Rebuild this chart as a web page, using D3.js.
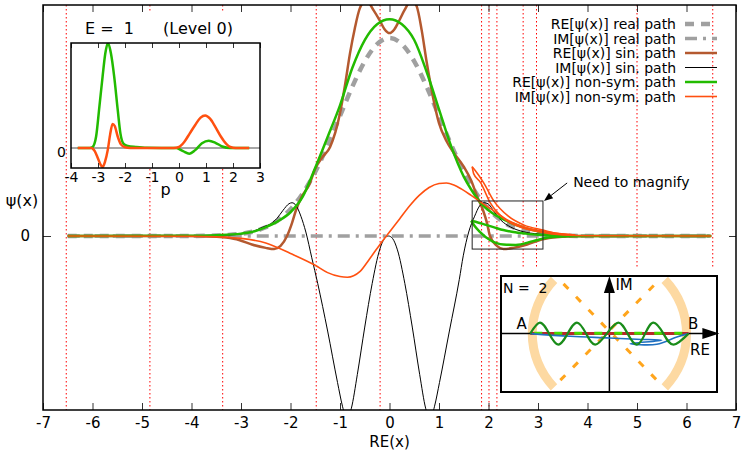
<!DOCTYPE html>
<html><head><meta charset="utf-8">
<script src="https://cdn.jsdelivr.net/npm/d3@7"></script>
<style>body{margin:0;background:#fff;} svg{display:block;} text{font-family:"DejaVu Sans",Verdana,sans-serif;fill:#000;}</style>
</head><body><svg id="c" width="750" height="450"></svg>
<script>
// ---------------- DATA ----------------
const xTickLabels = [-7,-6,-5,-4,-3,-2,-1,0,1,2,3,4,5,6,7];
const yTickLabels = [0];
const insetTickLabels = [-4,-3,-2,-1,0,1,2,3];
const redLinesX = [-6.53,-4.84,-3.37,-1.48,-0.19,1.86,2.01,2.17,2.70,2.97,5.0,6.53];
const legendLabels = ["RE[ψ(x)] real path","IM[ψ(x)] real path","RE[ψ(x)] sin. path","IM[ψ(x)] sin. path","RE[ψ(x)] non-sym. path","IM[ψ(x)] non-sym. path"];

const reRealPath = [[-6.5,0],[-4,0.0003],[-3.5,0.0022],[-3.25,0.0051],[-3,0.0111],[-2.75,0.0228],[-2.5,0.0439],[-2.25,0.0796],[-2,0.1353],[-1.75,0.2163],[-1.5,0.3247],[-1.25,0.4578],[-1,0.6065],[-0.75,0.7548],[-0.5,0.8825],[-0.25,0.9692],[0,1],[0.25,0.9692],[0.5,0.8825],[0.75,0.7548],[1,0.6065],[1.25,0.4578],[1.5,0.3247],[1.75,0.2163],[2,0.1353],[2.25,0.0796],[2.5,0.0439],[2.75,0.0228],[3,0.0111],[3.25,0.0051],[3.5,0.0022],[4,0.0003],[6.5,0]];
const imRealPath = [[-6.5,0],[6.5,0]];
const reSinPath = [[-6.5,0],[-4.2,0],[-3.7,-0.001],[-3.3,-0.008],[-3.04,-0.02],[-2.78,-0.043],[-2.5,-0.06],[-2.33,-0.066],[-2.2,-0.05],[-2.07,0],[-1.97,0.065],[-1.89,0.13],[-1.77,0.2],[-1.62,0.26],[-1.5,0.34],[-1.35,0.4],[-1.2,0.45],[-1,0.62],[-0.9,0.76],[-0.8,0.92],[-0.7,1.05],[-0.6,1.15],[-0.47,1.19],[-0.32,1.14],[-0.2,1.09],[-0.1,1.045],[0,1.025],[0.1,1.045],[0.2,1.09],[0.3,1.14],[0.45,1.19],[0.55,1.16],[0.65,1.04],[0.75,0.88],[0.88,0.7],[1,0.57],[1.15,0.48],[1.3,0.42],[1.5,0.35],[1.65,0.28],[1.77,0.2],[1.89,0.13],[1.97,0.065],[2.03,0],[2.17,-0.05],[2.3,-0.066],[2.5,-0.06],[2.78,-0.043],[3.04,-0.02],[3.3,-0.008],[3.7,-0.001],[4.2,0],[6.5,0]];
const imSinPath = [[-6.5,0],[-4,0],[-3.5,0.002],[-3,0.01],[-2.8,0.02],[-2.54,0.047],[-2.4,0.062],[-2.27,0.09],[-2.15,0.13],[-2.03,0.163],[-1.97,0.168],[-1.89,0.155],[-1.79,0.1],[-1.69,0.02],[-1.57,-0.11],[-1.45,-0.24],[-1.25,-0.48],[-1.05,-0.74],[-0.95,-0.86],[-0.86,-0.93],[-0.77,-0.87],[-0.65,-0.7],[-0.5,-0.46],[-0.35,-0.24],[-0.2,-0.07],[-0.1,-0.012],[-0.02,0],[0.06,-0.012],[0.16,-0.07],[0.31,-0.24],[0.46,-0.46],[0.61,-0.7],[0.73,-0.87],[0.82,-0.93],[0.91,-0.86],[1.01,-0.74],[1.21,-0.48],[1.41,-0.22],[1.49,-0.1],[1.6,0.02],[1.72,0.1],[1.82,0.152],[1.91,0.168],[1.99,0.163],[2.12,0.12],[2.25,0.08],[2.45,0.045],[2.7,0.022],[3,0.01],[3.5,0.002],[4,0],[6.5,0]];
// non-symmetric path: three branches (forward, back, forward) because RE(x) turns back
const reNonSymMain = [[-6.5,0],[-4,0.001],[-3.5,0.004],[-3,0.012],[-2.75,0.022],[-2.5,0.045],[-2.25,0.075],[-2,0.12],[-1.75,0.2],[-1.5,0.345],[-1.25,0.5],[-1,0.66],[-0.75,0.85],[-0.5,0.99],[-0.25,1.07],[0,1.095],[0.25,1.07],[0.5,0.99],[0.75,0.83],[1,0.64],[1.25,0.45],[1.5,0.3],[1.65,0.235],[1.85,0.165],[2,0.13],[2.25,0.09],[2.5,0.062],[2.75,0.04],[3,0.024],[3.25,0.012],[3.75,0.003]];
const reNonSymBack = [[3.75,0.003],[3.25,0.004],[3,0.006],[2.75,0.012],[2.5,0.02],[2.3,0.03],[2.1,0.045],[1.95,0.056],[1.8,0.067],[1.65,0.077]];
const reNonSymFwd = [[1.65,0.077],[1.72,0.05],[1.83,0.02],[2.03,-0.02],[2.3,-0.043],[2.55,-0.045],[2.9,-0.026],[3.2,-0.008],[3.6,-0.001],[4,0],[6.5,0]];
const imNonSymMain = [[-6.5,0],[-4,-0.001],[-3.5,-0.004],[-3,-0.012],[-2.5,-0.035],[-2,-0.088],[-1.5,-0.148],[-1.25,-0.185],[-1,-0.205],[-0.85,-0.208],[-0.6,-0.18],[-0.4,-0.115],[-0.2,-0.045],[0,0.02],[0.2,0.085],[0.4,0.15],[0.6,0.205],[0.8,0.245],[1,0.265],[1.15,0.268],[1.3,0.258],[1.45,0.238],[1.65,0.205],[1.85,0.17],[2.1,0.128],[2.4,0.078],[2.75,0.043],[3.2,0.02],[3.75,0.005]];
const imNonSymBack = [[3.75,0.005],[3.4,0.012],[3.1,0.03],[2.72,0.055],[2.4,0.1],[2.1,0.18],[1.9,0.27],[1.72,0.335],[1.67,0.35]];
const imNonSymFwd = [[1.67,0.35],[1.7,0.315],[1.84,0.27],[2.03,0.17],[2.3,0.09],[2.64,0.045],[3.04,0.02],[3.5,0.005],[4,0.001],[6.5,0]];
const magnifyBox = [[1.67,-0.066],[3.1,0.177]];
const magnifyLabel = [3.71,0.273];

// inset 1: momentum space (E = 1, Level 0)
const pNonSymRe = [[-3.75,0],[-3.3,0],[-3.2,0.01],[-3.07,0.11],[-2.95,0.39],[-2.83,0.68],[-2.73,0.9],[-2.63,1.0],[-2.52,0.9],[-2.4,0.68],[-2.27,0.365],[-2.17,0.14],[-2.05,0.04],[-1.9,0.02],[-1.6,0.01],[-1.2,0.002],[-0.1,0],[0.15,-0.03],[0.38,-0.054],[0.6,-0.02],[0.85,0.045],[1.1,0.07],[1.35,0.05],[1.6,0.015],[1.9,0],[2.6,0]];
const pNonSymIm = [[-3.75,0],[-3.25,0],[-3.12,-0.03],[-3,-0.1],[-2.9,-0.16],[-2.83,-0.18],[-2.74,-0.13],[-2.64,-0.02],[-2.55,0.13],[-2.46,0.23],[-2.38,0.21],[-2.27,0.11],[-2.15,0.035],[-2.02,0.01],[-1.8,0],[-0.2,0],[0,0.01],[0.2,0.06],[0.4,0.14],[0.6,0.22],[0.8,0.29],[0.97,0.31],[1.15,0.28],[1.35,0.2],[1.55,0.11],[1.75,0.04],[1.9,0.01],[2.1,0],[2.6,0]];

// inset 2: complex-plane paths (N = 2)
const wavePath = [[-1,0],[-0.878,0.14],[-0.762,0],[-0.646,-0.14],[-0.528,0],[-0.41,0.14],[-0.295,0],[-0.18,-0.14],[-0.033,0],[0.114,0.14],[0.23,0],[0.346,-0.14],[0.452,0],[0.557,0.14],[0.683,0],[0.81,-0.14],[1,0]];
const bluePath = [[-1,0],[-0.494,-0.034],[0,-0.055],[0.346,-0.072],[0.662,-0.084],[0.262,-0.127],[0.599,-0.135],[0.852,-0.042],[1,0]];
const realLine = [[-1,0],[1,0]];
const greenDashLine = [[-0.95,0.006],[0.95,0.006]];
const diagonal1 = [[-0.62,-0.59],[0.58,0.63]];
const diagonal2 = [[-0.58,0.63],[0.6,-0.59]];
const arcRadius = 0.975;
const arcSpans = [[-2.34,-0.80],[0.80,2.34]];
const pointLabels = [["A",-1.11,0.12],["B",1.06,0.12]];

// ---------------- DRAW ----------------
const svg = d3.select('#c');
const defs = svg.append('defs');
const P = {l:43, r:736, t:5, b:410};
const x = d3.scaleLinear().domain([-7,7]).range([P.l,P.r]);
const y = d3.scaleLinear().domain([-0.879,1.167]).range([P.b,P.t]);
defs.append('clipPath').attr('id','clipMain').append('rect')
  .attr('x',P.l).attr('y',P.t).attr('width',P.r-P.l).attr('height',P.b-P.t);

const sorted = p => p.slice().sort((a,b)=>a[0]-b[0]);
function drawPath(g, pts, xs, ys, st, curve){
  return g.append('path').datum(pts)
    .attr('d', d3.line().x(d=>xs(d[0])).y(d=>ys(d[1])).curve(curve||d3.curveMonotoneX))
    .attr('fill','none').attr('stroke',st.c).attr('stroke-width',st.w)
    .attr('stroke-dasharray',st.dash||null).attr('stroke-linejoin','round');
}
const S = {
  reReal:{c:'#a0a0a0',w:4.5,dash:'9,7'},
  imReal:{c:'#a0a0a0',w:3.5,dash:'12,6,3,6'},
  reSin:{c:'#b4592f',w:2.5},
  imSin:{c:'#000',w:1},
  reNon:{c:'#22bb00',w:2.5},
  imNon:{c:'#ff5010',w:1.6}
};

const gMain = svg.append('g').attr('clip-path','url(#clipMain)');
gMain.selectAll('line.rd').data(redLinesX).join('line')
  .attr('x1',d=>x(d)).attr('x2',d=>x(d)).attr('y1',P.t).attr('y2',P.b)
  .attr('stroke','#ff0000').attr('stroke-width',1).attr('stroke-dasharray','1.5,2.5');

drawPath(gMain, reRealPath, x, y, S.reReal);
drawPath(gMain, imRealPath, x, y, S.imReal, d3.curveLinear);
drawPath(gMain, reSinPath, x, y, S.reSin);
drawPath(gMain, imSinPath, x, y, S.imSin);
drawPath(gMain, reNonSymMain, x, y, S.reNon);
drawPath(gMain, sorted(reNonSymBack), x, y, S.reNon);
drawPath(gMain, reNonSymFwd, x, y, S.reNon);
drawPath(gMain, imNonSymMain, x, y, S.imNon);
drawPath(gMain, sorted(imNonSymBack), x, y, S.imNon);
drawPath(gMain, imNonSymFwd, x, y, S.imNon);

// magnify box + arrow
svg.append('rect').attr('x',x(magnifyBox[0][0])).attr('y',y(magnifyBox[1][1]))
  .attr('width',x(magnifyBox[1][0])-x(magnifyBox[0][0])).attr('height',y(magnifyBox[0][1])-y(magnifyBox[1][1]))
  .attr('fill','none').attr('stroke','#222').attr('stroke-width',1);
{
  const tx = x(magnifyBox[1][0])+1, ty = y(magnifyBox[1][1]);
  const sx = x(magnifyLabel[0])-6, sy = y(magnifyLabel[1])+1;
  const ang = Math.atan2(ty-sy, tx-sx), L=9, Wd=3.5;
  const bxp = tx - L*Math.cos(ang), byp = ty - L*Math.sin(ang);
  svg.append('line').attr('x1',sx).attr('y1',sy).attr('x2',bxp).attr('y2',byp).attr('stroke','#000').attr('stroke-width',1);
  svg.append('path').attr('d',`M${tx},${ty}L${bxp - Wd*Math.sin(ang)},${byp + Wd*Math.cos(ang)}L${bxp + Wd*Math.sin(ang)},${byp - Wd*Math.cos(ang)}Z`).attr('fill','#000');
  svg.append('text').attr('x',x(magnifyLabel[0])).attr('y',y(magnifyLabel[1])).attr('dominant-baseline','central')
    .attr('font-size',14).text('Need to magnify');
}

// ---------- Inset 1 ----------
const ix = d3.scaleLinear().domain([-4,3]).range([71,260]);
const iy = d3.scaleLinear().domain([-0.19,1.0]).range([168,43]);
svg.append('rect').attr('x',68).attr('y',11).attr('width',197).attr('height',157).attr('fill','#fff');
defs.append('clipPath').attr('id','clipIn1').append('rect').attr('x',ix(-4)).attr('y',iy(1)).attr('width',ix(3)-ix(-4)).attr('height',iy(-0.19)-iy(1));
const g1 = svg.append('g');
const g1c = g1.append('g').attr('clip-path','url(#clipIn1)');
g1c.append('line').attr('x1',ix(-4)).attr('x2',ix(3)).attr('y1',iy(0)).attr('y2',iy(0)).attr('stroke','#888').attr('stroke-width',1.5);
drawPath(g1c, pNonSymRe, ix, iy, {c:'#22bb00',w:2.5});
drawPath(g1c, pNonSymIm, ix, iy, {c:'#ff5010',w:2.5});
g1.append('g').attr('transform',`translate(0,${iy(-0.19)})`)
  .call(d3.axisBottom(ix).tickValues(insetTickLabels).tickFormat(d=>String(d)).tickSizeInner(-5).tickSizeOuter(0).tickPadding(4))
  .call(g=>{g.select('.domain').remove(); g.selectAll('text').attr('font-size',14).attr('font-family','DejaVu Sans').attr('fill','#000'); g.selectAll('line').attr('stroke','#333');});
g1.append('g').attr('transform',`translate(0,${iy(1)})`)
  .call(d3.axisTop(ix).tickValues(insetTickLabels).tickFormat('').tickSizeInner(-5).tickSizeOuter(0))
  .call(g=>{g.select('.domain').remove(); g.selectAll('line').attr('stroke','#333');});
g1.append('text').attr('x',ix(-4)-5).attr('y',iy(0)+4).attr('text-anchor','end').attr('dominant-baseline','central').attr('font-size',14).text('0');
g1.append('rect').attr('x',ix(-4)).attr('y',iy(1)).attr('width',ix(3)-ix(-4)).attr('height',iy(-0.19)-iy(1))
  .attr('fill','none').attr('stroke','#000').attr('stroke-width',1.5);
g1.append('text').attr('x',85).attr('y',28).attr('dominant-baseline','central').attr('font-size',16).style('white-space','pre').text('E =  1');
g1.append('text').attr('x',163).attr('y',28).attr('dominant-baseline','central').attr('font-size',16).text('(Level 0)');
g1.append('text').attr('x',ix(-0.5)).attr('y',195).attr('text-anchor','middle').attr('font-size',16).text('p');

// ---------- Inset 2 ----------
const bx = d3.scaleLinear().domain([-1.37,1.36]).range([501,717]);
const by = d3.scaleLinear().domain([-0.74,0.73]).range([392,276]);
svg.append('rect').attr('x',499).attr('y',268).attr('width',237).attr('height',142).attr('fill','#fff');
const g2 = svg.append('g');
const r0 = bx(arcRadius)-bx(0);
g2.selectAll('path.arc').data(arcSpans).join('path')
  .attr('transform',`translate(${bx(0)},${by(0)})`)
  .attr('d',d=>d3.arc().innerRadius(r0-4.5).outerRadius(r0+4.5).startAngle(d[0]).endAngle(d[1])())
  .attr('fill','#fdd9a2');
[diagonal1, diagonal2].forEach(dg=>drawPath(g2, dg, bx, by, {c:'#ffa51c',w:3,dash:'7,11'}, d3.curveLinear));
const reTip = 1.39, imTip = 0.73;
g2.append('line').attr('x1',bx(-1.37)).attr('x2',bx(reTip)-14).attr('y1',by(0)).attr('y2',by(0)).attr('stroke','#000').attr('stroke-width',1.5);
g2.append('path').attr('d',`M${bx(reTip)},${by(0)}L${bx(reTip)-17},${by(0)-5.5}L${bx(reTip)-17},${by(0)+5.5}Z`).attr('fill','#000');
g2.append('line').attr('x1',bx(0)).attr('x2',bx(0)).attr('y1',by(-0.74)).attr('y2',by(imTip)+14).attr('stroke','#000').attr('stroke-width',1.5);
g2.append('path').attr('d',`M${bx(0)},${by(imTip)}L${bx(0)-5.5},${by(imTip)+17}L${bx(0)+5.5},${by(imTip)+17}Z`).attr('fill','#000');
drawPath(g2, realLine, bx, by, {c:'#b8282a',w:3}, d3.curveLinear);
drawPath(g2, greenDashLine, bx, by, {c:'#44dd00',w:3,dash:'8,12'}, d3.curveLinear);
drawPath(g2, bluePath, bx, by, {c:'#2070c0',w:1.6}, d3.curveCatmullRom);
drawPath(g2, wavePath, bx, by, {c:'#1a8c1a',w:2.2}, d3.curveNatural);
g2.append('rect').attr('x',bx(-1.37)).attr('y',by(0.73)).attr('width',bx(1.36)-bx(-1.37)).attr('height',by(-0.74)-by(0.73))
  .attr('fill','none').attr('stroke','#000').attr('stroke-width',2);
g2.append('text').attr('x',503).attr('y',288).attr('dominant-baseline','central').attr('font-size',14).style('white-space','pre').text('N =  2');
g2.selectAll('text.pl').data(pointLabels).join('text').attr('x',d=>bx(d[1])).attr('y',d=>by(d[2])).attr('text-anchor','middle').attr('dominant-baseline','central').attr('font-size',15).text(d=>d[0]);
g2.append('text').attr('x',bx(0)+6).attr('y',285).attr('dominant-baseline','central').attr('font-size',15).text('IM');
g2.append('text').attr('x',700).attr('y',350).attr('text-anchor','middle').attr('dominant-baseline','central').attr('font-size',15).text('RE');

// ---------- Main axes ----------
const styleAxis = g=>{g.select('.domain').remove(); g.selectAll('line').attr('stroke','#333'); g.selectAll('text').attr('font-size',15).attr('font-family','DejaVu Sans').attr('fill','#000');};
svg.append('g').attr('transform',`translate(0,${P.b})`)
  .call(d3.axisBottom(x).tickValues(xTickLabels).tickFormat(d=>String(d)).tickSizeInner(-7).tickSizeOuter(0).tickPadding(7)).call(styleAxis);
svg.append('g').attr('transform',`translate(0,${P.t})`)
  .call(d3.axisTop(x).tickValues(xTickLabels).tickFormat('').tickSizeInner(-7).tickSizeOuter(0)).call(styleAxis);
svg.append('g').attr('transform',`translate(${P.l},0)`)
  .call(d3.axisLeft(y).tickValues(yTickLabels).tickFormat(d=>String(d)).tickSizeInner(-8).tickSizeOuter(0).tickPadding(13)).call(styleAxis);
svg.append('g').attr('transform',`translate(${P.r},0)`)
  .call(d3.axisRight(y).tickValues(yTickLabels).tickFormat('').tickSizeInner(-7).tickSizeOuter(0)).call(styleAxis);
svg.append('rect').attr('x',P.l).attr('y',P.t).attr('width',P.r-P.l).attr('height',P.b-P.t)
  .attr('fill','none').attr('stroke','#000').attr('stroke-width',1.5);
svg.append('text').attr('x',22).attr('y',200).attr('text-anchor','middle').attr('dominant-baseline','central').attr('font-size',16).text('ψ(x)');
svg.append('text').attr('x',x(0)).attr('y',442).attr('text-anchor','middle').attr('dominant-baseline','central').attr('font-size',15).text('RE(x)');

// ---------- Legend ----------
const legStyles = [S.reReal,S.imReal,S.reSin,S.imSin,S.reNon,S.imNon];
const lg = svg.append('g');
legendLabels.forEach((lab,i)=>{
  const yy = 24 + i*14.5;
  lg.append('text').attr('x',676).attr('y',yy).attr('text-anchor','end').attr('dominant-baseline','central').attr('font-size',14).text(lab);
  const st = legStyles[i];
  lg.append('line').attr('x1',685).attr('x2',717).attr('y1',yy).attr('y2',yy)
    .attr('stroke',st.c).attr('stroke-width',st.w).attr('stroke-dasharray',st.dash||null);
});
</script></body></html>
